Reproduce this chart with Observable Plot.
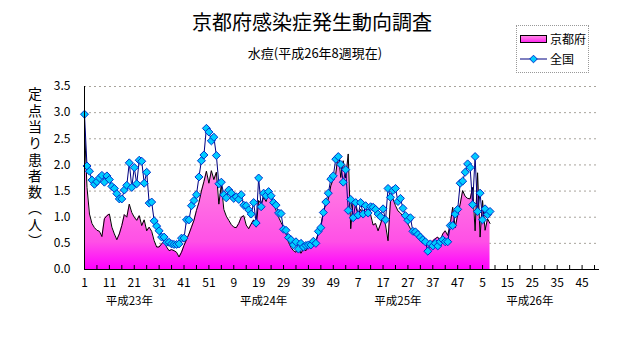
<!DOCTYPE html>
<html>
<head>
<meta charset="utf-8">
<script src="https://cdn.jsdelivr.net/npm/d3@7"></script>
<script src="https://cdn.jsdelivr.net/npm/@observablehq/plot@0.6"></script>
<style>
  body { margin: 0; background: #fff; }
  #wrap { position: relative; width: 632px; height: 348px; overflow: hidden;
          font-family: "Noto Sans CJK JP", "Noto Sans", sans-serif; color: #000; }
  #chart { position: absolute; left: 0; top: 0; }
  .title { position: absolute; left: 0; width: 624px; top: 8px; text-align: center;
           font-size: 20px; line-height: 28px; }
  .subtitle { position: absolute; left: 0; width: 630px; top: 44px; text-align: center;
              font-size: 13px; line-height: 18px; }
  .ylab { position: absolute; left: 26px; top: 87px; writing-mode: vertical-rl;
          text-orientation: upright; font-size: 14px; letter-spacing: 2.3px; line-height: 18px; }
  .legend { position: absolute; left: 516px; top: 25px; width: 71px; height: 46px;
            border: 1px dotted #999; font-size: 12px; white-space: nowrap; }
  .legend .row { position: absolute; left: 3px; height: 16px; display: flex; align-items: center; white-space: nowrap; }
  .legend .row span { margin-left: 2px; line-height: 16px; white-space: nowrap; }
</style>
</head>
<body>
<div id="wrap">
  <div id="chart"></div>
  <div class="title">京都府感染症発生動向調査</div>
  <div class="subtitle">水痘(平成26年8週現在)</div>
  <div class="ylab">定点当り患者数（人）</div>
  <div class="legend">
    <div class="row" style="top:5px">
      <svg width="28" height="12"><defs><linearGradient id="lgGrad" x1="0" x2="0" y1="0" y2="1"><stop offset="0" stop-color="#ff90e4"/><stop offset="1" stop-color="#ff20f0"/></linearGradient></defs><rect x="0.5" y="2.5" width="26" height="7" fill="url(#lgGrad)" stroke="#000"/></svg>
      <span>京都府</span>
    </div>
    <div class="row" style="top:25px">
      <svg width="28" height="12"><line x1="0" x2="27" y1="6" y2="6" stroke="#000080"/><path d="M13.5,2.2L17.3,6L13.5,9.8L9.7,6Z" fill="#00ccff" stroke="#0033cc"/></svg>
      <span>全国</span>
    </div>
  </div>
</div>
<script>
// 京都府 (定点当り患者数), 2011 week 1 .. 2014 week 8
const kyoto = [
  2.72,1.57,1.06,0.88,0.80,0.75,0.73,0.63,0.97,1.03,1.06,0.81,0.68,0.57,0.68,0.84,1.05,1.00,1.25,1.09,
  1.00,0.94,1.03,0.84,0.95,0.74,0.81,0.73,0.55,0.43,0.43,0.49,0.54,0.43,0.36,0.38,0.36,0.33,0.24,0.33,
  0.46,0.57,0.68,0.81,0.94,1.13,1.28,1.50,1.68,1.88,1.65,1.89,1.72,1.86,1.25,1.62,1.15,1.02,0.94,0.86,
  0.81,0.80,0.88,1.00,1.03,0.85,0.78,0.87,0.95,0.81,1.32,1.25,1.38,1.30,1.48,1.38,1.25,1.13,1.00,0.90,
  0.81,0.68,0.52,0.42,0.36,0.33,0.43,0.31,0.39,0.36,0.43,0.49,0.46,0.55,0.68,0.84,1.10,1.25,1.35,1.60,
  1.73,1.83,2.21,1.76,2.08,1.75,2.21,0.78,1.32,1.20,1.05,1.15,1.05,1.20,1.10,1.05,0.85,0.88,0.74,0.87,
  1.02,0.85,0.55,1.32,1.35,1.22,1.12,1.08,1.02,0.97,0.87,0.78,0.72,0.70,0.68,0.62,0.58,0.55,0.52,0.49,
  0.55,0.59,0.62,0.55,0.68,0.74,0.65,0.87,1.19,0.80,1.05,1.25,1.51,1.40,1.36,1.35,1.57,0.74,1.85,0.62,
  1.32,0.75,0.97,0.88
];
// 全国
const zenkoku = [
  2.97,1.98,1.88,1.71,1.63,1.68,1.75,1.80,1.67,1.79,1.72,1.59,1.55,1.45,1.35,1.35,1.52,1.61,2.04,1.57,
  1.95,1.64,2.09,2.07,1.65,1.86,1.27,1.29,0.93,0.83,0.74,0.62,0.62,0.52,0.52,0.49,0.48,0.48,0.49,0.60,
  0.60,0.95,0.95,1.22,1.32,1.43,1.77,2.08,2.19,2.70,2.63,2.46,2.53,2.18,1.64,1.67,1.43,1.37,1.52,1.46,
  1.36,1.39,1.34,1.43,1.23,1.22,1.14,1.06,1.28,0.89,1.75,1.20,1.46,1.41,1.49,1.41,1.28,1.23,1.08,1.07,
  0.77,0.75,0.61,0.57,0.47,0.53,0.39,0.50,0.43,0.46,0.47,0.47,0.54,0.50,0.73,0.80,1.09,1.29,1.46,1.73,
  1.79,2.11,2.16,2.01,1.67,1.91,1.13,1.34,0.99,1.28,1.04,1.28,1.06,1.22,1.08,1.20,1.19,1.15,1.06,1.01,
  1.16,0.95,1.55,1.38,1.51,1.55,1.30,1.36,1.17,1.03,0.94,0.99,0.73,0.72,0.67,0.62,0.57,0.53,0.35,0.49,
  0.45,0.50,0.45,0.53,0.57,0.53,0.53,0.84,0.84,1.06,1.15,1.65,1.69,1.86,2.02,1.95,1.24,2.16,1.11,1.46,
  0.95,1.16,1.05,1.11
];
const tickLabels = ["1","11","21","31","41","51","9","19","29","39","49","7","17","27","37","47","5","15","25","35","45"];
const yearLabels = ["平成23年","平成24年","平成25年","平成26年"];
const yearLabelWeek = [19, 73, 127, 180];
const yTicks = [0, 0.5, 1, 1.5, 2, 2.5, 3, 3.5];
const gridTicks = [0.5, 1, 1.5, 2, 2.5, 3, 3.5];

const data = kyoto.map((v, k) => ({week: k + 1, kyoto: v, zenkoku: zenkoku[k]}));
const labelWeeks = tickLabels.map((_, k) => 1 + 10 * k);
const tickWeeks = d3.range(1, 209, 5);
const years = yearLabels.map((t, k) => ({text: t, week: yearLabelWeek[k]}));

const gradientDefs = (index, scales, values, dims) => {
  const defs = d3.create("svg:defs");
  const g = defs.append("linearGradient").attr("id", "pinkGrad")
    .attr("gradientUnits", "userSpaceOnUse")
    .attr("x1", 0).attr("x2", 0)
    .attr("y1", dims.marginTop).attr("y2", dims.height - dims.marginBottom);
  [[0, "#ffb0ee"], [0.5, "#ff80e2"], [0.85, "#ff50e6"], [1, "#ff00ff"]].forEach(([o, c]) =>
    g.append("stop").attr("offset", o).attr("stop-color", c));
  return defs.node();
};

const plot = Plot.plot({
  width: 632, height: 348,
  marginLeft: 84, marginRight: 33, marginTop: 86, marginBottom: 79,
  x: {type: "linear", domain: [1, 208], axis: null},
  y: {domain: [0, 3.5], axis: null},
  style: {fontFamily: '"Noto Sans CJK JP", sans-serif', fontSize: "12px", background: "transparent", color: "#000"},
  marks: [
    gradientDefs,
    Plot.ruleY(gridTicks, {stroke: "#a8a49c", strokeDasharray: "2,3"}),
    Plot.areaY(data, {x: "week", y: "kyoto", fill: "url(#pinkGrad)", curve: "linear"}),
    Plot.line(data, {x: "week", y: "kyoto", stroke: "#000", strokeWidth: 1}),
    Plot.line(data, {x: "week", y: "zenkoku", stroke: "#000080", strokeWidth: 1}),
    Plot.dot(data, {x: "week", y: "zenkoku", symbol: "diamond2", r: 3.6, fill: "#00ccff", stroke: "#0033cc", strokeWidth: 1}),
    Plot.ruleX([1], {stroke: "#000"}),
    Plot.ruleY([0], {stroke: "#000"}),
    Plot.ruleX(tickWeeks, {x: d => d, y1: 0, y2: 0, insetBottom: 4, stroke: "#000"}),
    Plot.axisY(yTicks, {tickSize: 0, tickPadding: 14, tickFormat: d3.format(".1f"), label: null, fontSize: 12}),
    Plot.axisX(labelWeeks, {tickSize: 0, tickPadding: 9, tickFormat: d => tickLabels[labelWeeks.indexOf(d)], label: null, fontSize: 12}),
    Plot.text(years, {x: "week", text: "text", frameAnchor: "bottom", dy: 35, fontSize: 11.5})
  ]
});
document.getElementById("chart").appendChild(plot);
</script>
</body>
</html>
